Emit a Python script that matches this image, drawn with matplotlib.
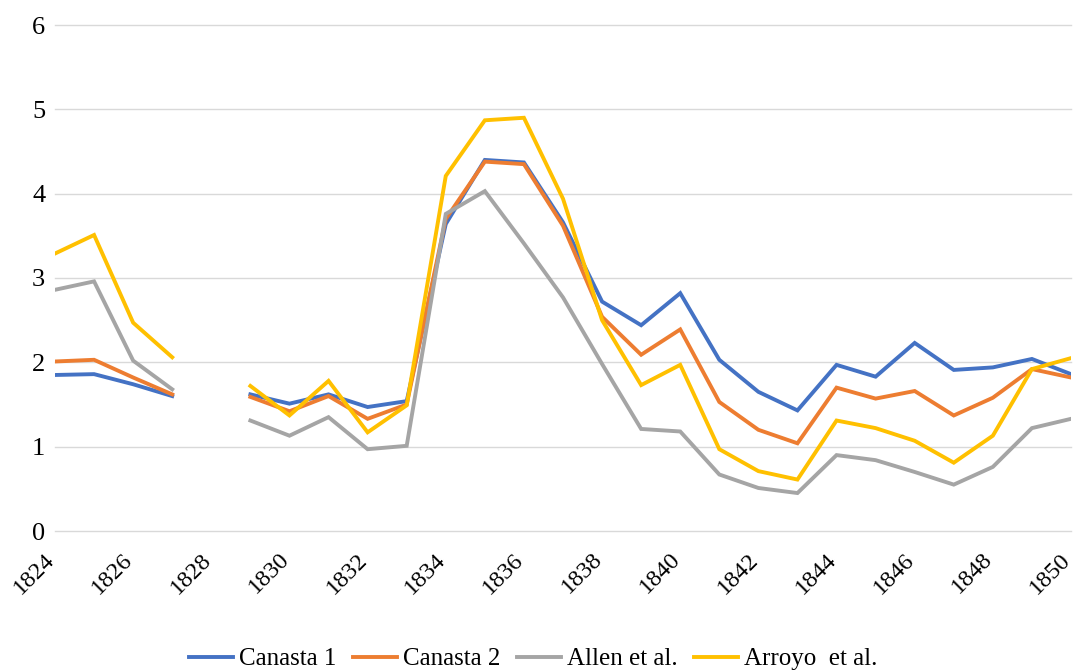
import matplotlib.pyplot as plt
import matplotlib.transforms as mtransforms
import numpy as np

plt.rcParams['font.family'] = ['Liberation Serif', 'DejaVu Serif']

nan = np.nan
years = list(range(1824, 1851))

canasta1 = [1.85, 1.86, 1.74, 1.60, nan, 1.62, 1.51, 1.62, 1.47, 1.54,
            3.64, 4.40, 4.37, 3.66, 2.72, 2.44, 2.82, 2.03, 1.65, 1.43,
            1.97, 1.83, 2.23, 1.91, 1.94, 2.04, 1.86]
canasta2 = [2.01, 2.03, 1.82, 1.62, nan, 1.59, 1.42, 1.60, 1.33, 1.50,
            3.70, 4.38, 4.35, 3.62, 2.54, 2.09, 2.39, 1.53, 1.20, 1.04,
            1.70, 1.57, 1.66, 1.37, 1.58, 1.92, 1.82]
allen = [2.86, 2.96, 2.02, 1.68, nan, 1.31, 1.13, 1.35, 0.97, 1.01,
         3.76, 4.03, 3.41, 2.77, 1.98, 1.21, 1.18, 0.67, 0.51, 0.45,
         0.90, 0.84, 0.70, 0.55, 0.76, 1.22, 1.33]
arroyo = [3.29, 3.51, 2.47, 2.06, nan, 1.72, 1.37, 1.78, 1.17, 1.49,
          4.21, 4.87, 4.90, 3.94, 2.50, 1.73, 1.97, 0.97, 0.71, 0.61,
          1.31, 1.22, 1.07, 0.81, 1.13, 1.92, 2.05]

series = [
    ("Canasta 1", canasta1, "#4472C4"),
    ("Canasta 2", canasta2, "#ED7D31"),
    ("Allen et al.", allen, "#A5A5A5"),
    ("Arroyo  et al.", arroyo, "#FFC000"),
]

fig = plt.figure(figsize=(10.75, 6.72), dpi=100)
ax = fig.add_axes([55 / 1075, 1 - 531 / 672, (1071 - 55) / 1075, (531 - 25) / 672])

for name, vals, col in series:
    ax.plot(years, vals, color=col, linewidth=2.8, label=name,
            solid_joinstyle="miter", zorder=3)

ax.set_xlim(1824, 1850)
ax.set_ylim(0, 6)
ax.set_yticks(range(0, 7))
ax.set_xticks(range(1824, 1851, 2))
ax.set_xticklabels([str(y) for y in range(1824, 1851, 2)],
                   rotation=45, ha="right", va="top")
ax.yaxis.grid(True, color="#D9D9D9", linewidth=1.0)
for gl in ax.get_ygridlines():
    gl.set_clip_on(False)
ax.set_axisbelow(True)
for s in ax.spines.values():
    s.set_visible(False)
ax.tick_params(axis="both", length=0, colors="black")
ax.tick_params(axis="x", pad=13, labelsize=17.5)
ax.tick_params(axis="y", pad=7, labelsize=19)

# nudge the rotated year labels a few pixels to the right
shift = mtransforms.ScaledTranslation(4 / 100, 0, fig.dpi_scale_trans)
for lab in ax.get_xticklabels():
    lab.set_transform(lab.get_transform() + shift)

fig.legend(loc="center", bbox_to_anchor=(0.496, 0.019), ncol=4,
           frameon=False, fontsize=18, handlelength=1.76,
           handletextpad=0.25, columnspacing=0.65)

fig.savefig("out.png", dpi=100)
